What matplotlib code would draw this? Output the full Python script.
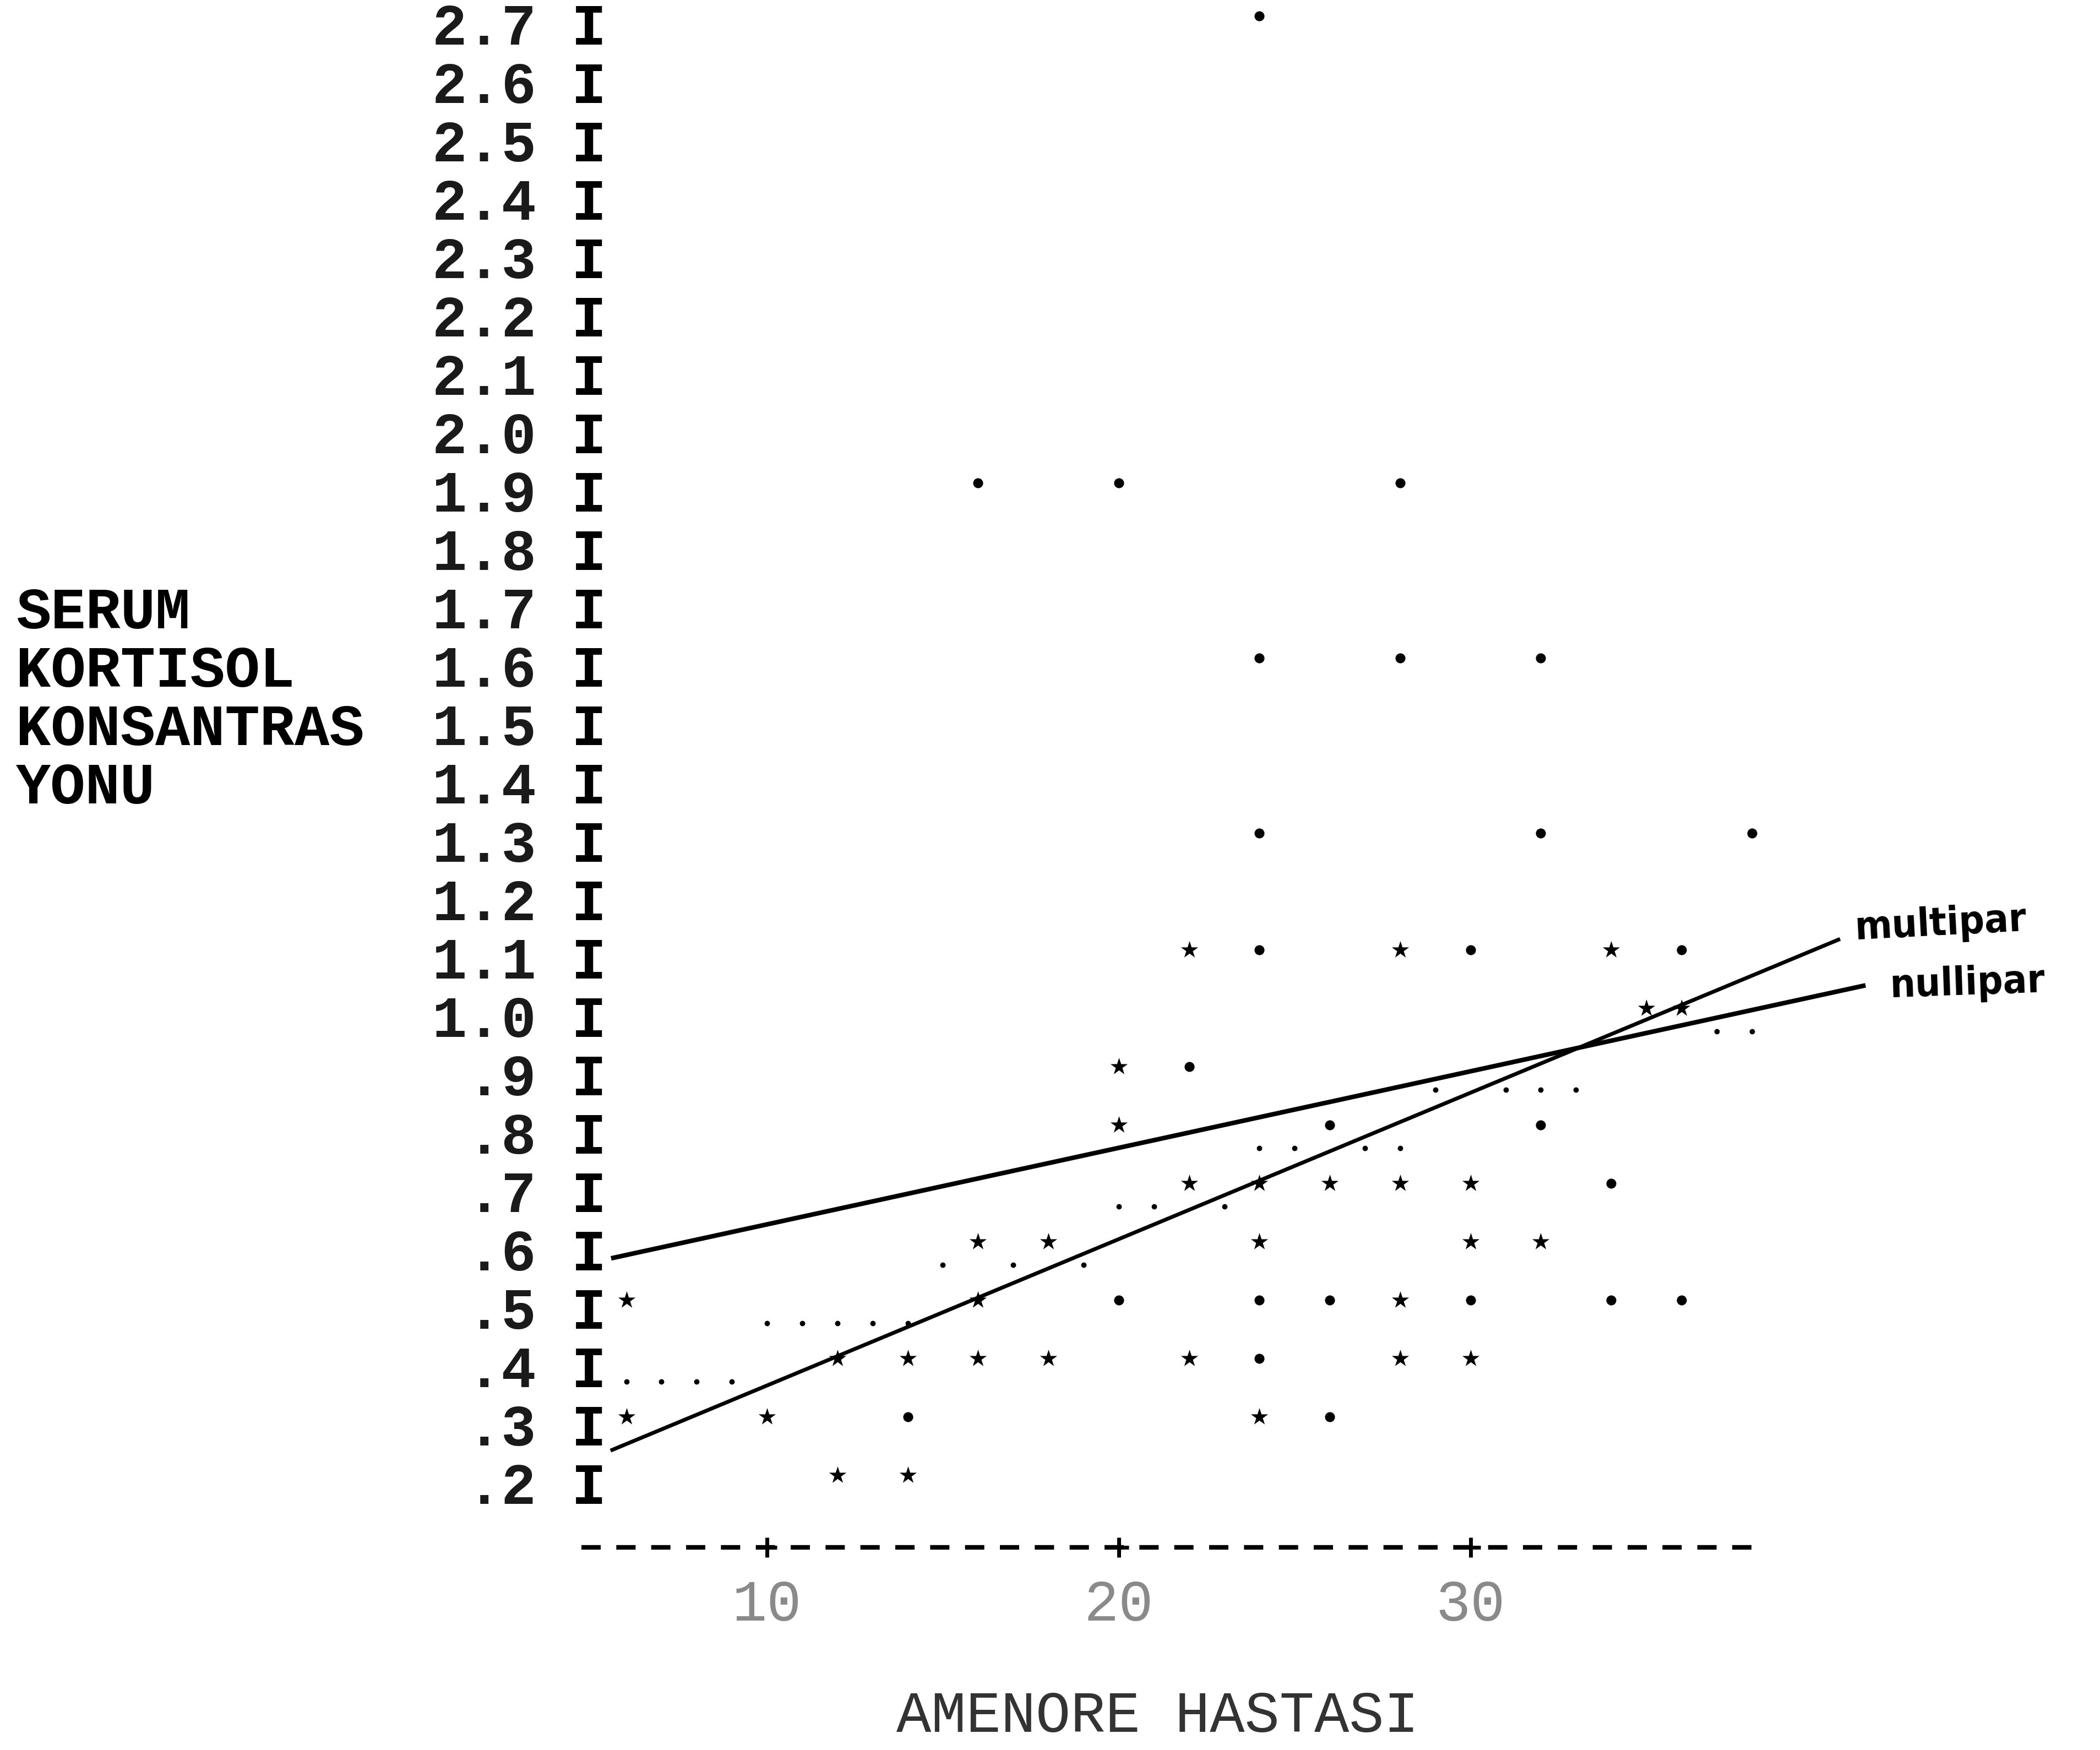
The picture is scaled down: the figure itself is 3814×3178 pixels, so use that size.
import matplotlib
matplotlib.use("Agg")
import matplotlib.pyplot as plt
from matplotlib.transforms import offset_copy

# rows of the typewriter print-out (y axis)
y_rows = [2.7, 2.6, 2.5, 2.4, 2.3, 2.2, 2.1, 2.0, 1.9, 1.8, 1.7, 1.6, 1.5,
          1.4, 1.3, 1.2, 1.1, 1.0, 0.9, 0.8, 0.7, 0.6, 0.5, 0.4, 0.3, 0.2]
y_row_labels = ["2.7", "2.6", "2.5", "2.4", "2.3", "2.2", "2.1", "2.0",
                "1.9", "1.8", "1.7", "1.6", "1.5", "1.4", "1.3", "1.2",
                "1.1", "1.0", ".9", ".8", ".7", ".6", ".5", ".4", ".3", ".2"]
y_title_lines = ["SERUM", "KORTISOL", "KONSANTRAS", "YONU"]
y_title_rows = [1.7, 1.6, 1.5, 1.4]

x_ticks = [10, 20, 30]
x_tick_labels = ["10", "20", "30"]
x_title = "AMENORE HASTASI"

# printed asterisks
star_x = [12, 14,
          6, 10, 24,
          12, 14, 16, 18, 22, 28, 30,
          6, 16, 28,
          16, 18, 24, 30, 32,
          22, 24, 26, 28, 30,
          20,
          20,
          35, 36,
          22, 28, 34]
star_y = [0.2, 0.2,
          0.3, 0.3, 0.3,
          0.4, 0.4, 0.4, 0.4, 0.4, 0.4, 0.4,
          0.5, 0.5, 0.5,
          0.6, 0.6, 0.6, 0.6, 0.6,
          0.7, 0.7, 0.7, 0.7, 0.7,
          0.8,
          0.9,
          1.0, 1.0,
          1.1, 1.1, 1.1]

# asterisks that printed as round blobs
blob_x = [14, 26,
          24,
          20, 24, 26, 30, 34, 36,
          34,
          26, 32,
          22,
          24, 30, 36,
          24, 32, 38,
          24, 28, 32,
          16, 20, 28,
          24]
blob_y = [0.3, 0.3,
          0.4,
          0.5, 0.5, 0.5, 0.5, 0.5, 0.5,
          0.7,
          0.8, 0.8,
          0.9,
          1.1, 1.1, 1.1,
          1.3, 1.3, 1.3,
          1.6, 1.6, 1.6,
          1.9, 1.9, 1.9,
          2.7]

# periods of the printed regression line
dot_x = [6, 7, 8, 9,
         10, 11, 12, 13, 14,
         15, 17, 19,
         20, 21, 23,
         24, 25, 27, 28,
         29, 31, 32, 33,
         37, 38]
dot_y = [0.4, 0.4, 0.4, 0.4,
         0.5, 0.5, 0.5, 0.5, 0.5,
         0.6, 0.6, 0.6,
         0.7, 0.7, 0.7,
         0.8, 0.8, 0.8, 0.8,
         0.9, 0.9, 0.9, 0.9,
         1.0, 1.0]

# hand drawn lines (end points)
nullipar_x = [5.63, 41.17]
nullipar_y = [0.596, 1.062]
multipar_x = [5.60, 40.46]
multipar_y = [0.267, 1.141]

MONO = "Liberation Mono"
FS = 76

fig = plt.figure(figsize=(38.14, 31.78), dpi=100)
ax = fig.add_axes([0, 0, 1, 1])
ax.set_xlim(-11.81, 47.90)
ax.set_ylim(-0.2472, 2.7509)
ax.axis("off")

# y axis: labels and the column of I's
for val, lab in zip(y_rows, y_row_labels):
    ax.text(3.45, val, lab, ha="right", va="center", family=MONO,
            fontsize=FS, fontweight="bold", color="#1a1a1a")
    ax.text(4.94, val, "I", ha="center", va="center", family=MONO,
            fontsize=FS, fontweight="bold", color="black")

for val, lab in zip(y_title_rows, y_title_lines):
    ax.text(-11.35, val, lab, ha="left", va="center", family=MONO,
            fontsize=FS, fontweight="bold", color="black")

# x axis typed with dashes
ax.plot([4.72, 38.28], [0.1, 0.1], color="black", lw=6,
        linestyle=(0, (4.2, 3.4)), dash_capstyle="butt")
ax.plot(x_ticks, [0.1] * len(x_ticks), linestyle="none", marker="+",
        markersize=26, mew=5, color="black")
for xv, lab in zip(x_ticks, x_tick_labels):
    ax.text(xv, 0.0, lab, ha="center", va="center", family=MONO,
            fontsize=FS, color="#8a8a8a")
ax.text(21.1, -0.19, x_title, ha="center", va="center", family=MONO,
        fontsize=FS, color="#333333")

# points: asterisks sit above the row centre, periods below
up = offset_copy(ax.transData, fig=fig, x=0, y=18, units="points")
down = offset_copy(ax.transData, fig=fig, x=0, y=-12, units="points")
ax.scatter(star_x, star_y, marker="*", s=560, color="black",
           linewidths=0, transform=up)
ax.scatter(blob_x, blob_y, marker="o", s=170, color="black",
           linewidths=0, transform=up)
ax.scatter(dot_x, dot_y, marker="o", s=50, color="black",
           linewidths=0, transform=down)

# regression lines drawn by hand
ax.plot(nullipar_x, nullipar_y, color="black", lw=6)
ax.plot(multipar_x, multipar_y, color="black", lw=5)
ax.text(40.9, 1.168, "multipar", ha="left", va="center", fontsize=52,
        family="DejaVu Sans", fontweight="bold", fontstretch="condensed",
        rotation=3)
ax.text(41.9, 1.065, "nullipar", ha="left", va="center", fontsize=52,
        family="DejaVu Sans", fontweight="bold", fontstretch="condensed",
        rotation=2)

fig.savefig("out.png", dpi=100, facecolor="white")
